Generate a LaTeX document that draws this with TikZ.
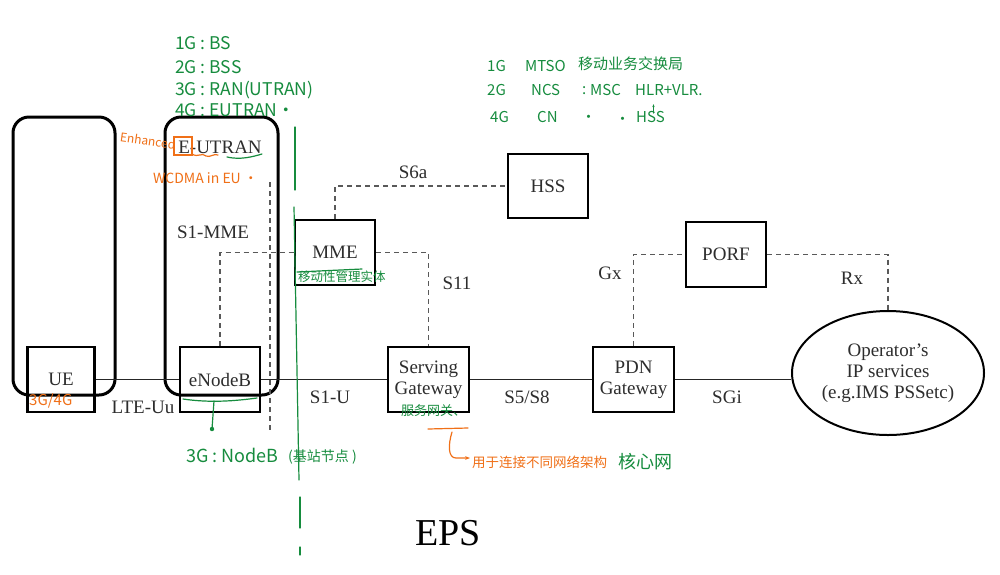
\documentclass[tikz,border=0pt]{standalone}
\usepackage{fontspec}
\setmainfont{Liberation Serif}
\newfontfamily\hand{Noto Sans CJK SC}
\usetikzlibrary{shapes.geometric,arrows.meta}
\definecolor{hg}{RGB}{22,140,62}
\definecolor{ho}{RGB}{240,112,24}
\definecolor{ink}{RGB}{45,45,45}
\begin{document}
\begin{tikzpicture}[x=1pt,y=-1pt,
  box/.style={draw=black, line width=2.3pt, align=center, inner sep=0pt,
    text=ink, font=\fontsize{19}{21}\selectfont},
  area/.style={draw=black, line width=3pt, rounded corners=16pt, inner sep=0pt},
  lbl/.style={text=ink, font=\fontsize{19}{21}\selectfont, inner sep=0pt},
  conn/.style={draw=black!85, line width=1pt},
  dashconn/.style={draw=black!65, line width=1.2pt, dash pattern=on 5pt off 4pt},
  grn/.style={text=hg, font=\hand\fontsize{17.5}{19}\selectfont, anchor=west, inner sep=0pt},
  org/.style={text=ho, font=\hand\fontsize{13}{15}\selectfont, anchor=west, inner sep=0pt},
  gline/.style={draw=hg, line width=1.2pt, line cap=round},
  oline/.style={draw=ho, line width=1.2pt, line cap=round}]
\useasboundingbox[fill=white] (0,0) rectangle (1000,574);

% big rounded areas
\node[area, minimum width=102, minimum height=278] (uearea) at (64,256) {};
\node[area, minimum width=113, minimum height=278] (eutran) at (221.5,256) {};

% boxes
\node[box, minimum width=67, minimum height=65] (ue) at (61,379.5) {UE};
\node[box, minimum width=80, minimum height=65] (enb) at (220,379.5) {eNodeB};
\node[box, minimum width=81, minimum height=65] (sgw) at (428.5,379.5) {Serving\\Gateway};
\node[box, minimum width=81, minimum height=65] (pgw) at (633.5,379.5) {PDN\\Gateway};
\node[box, minimum width=80, minimum height=65] (mme) at (335,252.5) {MME};
\node[box, minimum width=80, minimum height=64] (hss) at (548,186) {HSS};
\node[box, minimum width=80, minimum height=65] (porf) at (726,254.5) {PORF};
\node[draw=black, line width=2pt, ellipse, minimum width=192, minimum height=124,
  align=center, text=ink, font=\fontsize{19}{21}\selectfont, inner sep=0pt]
  (ops) at (888,373) {Operator’s\\IP services\\(e.g.IMS PSSetc)};

% solid connectors
\draw[conn] (ue.east) -- (enb.west);
\draw[conn] (enb.east) -- (sgw.west);
\draw[conn] (sgw.east) -- (pgw.west);
\draw[conn] (pgw.east) -- (ops.west |- pgw.east);

% dashed connectors
\draw[dashconn] (mme.north) |- (hss.west);
\draw[dashconn] (mme.east) -| (sgw.north);
\draw[dashconn] (enb.north) |- (mme.west);
\draw[dashconn] (pgw.north) |- (porf.west);
\draw[dashconn] (porf.east) -| (ops.north);
\coordinate (vtop) at (270,182);
\coordinate (vbot) at (270,432);
\draw[dashconn] (vtop) -- (vbot);

% labels
\node[lbl] (l1) at (220,147) {E-UTRAN};
\node[lbl] (l2) at (213,232) {S1-MME};
\node[lbl] (l3) at (143,407) {LTE-Uu};
\node[lbl] (l4) at (330,397) {S1-U};
\node[lbl] (l5) at (527,397) {S5/S8};
\node[lbl] (l6) at (727,397) {SGi};
\node[lbl] (l7) at (413,172) {S6a};
\node[lbl] (l8) at (457,283) {S11};
\node[lbl] (l9) at (610,273) {Gx};
\node[lbl] (l10) at (852,278) {Rx};
\node[text=black, font=\fontsize{38}{40}\selectfont] (eps) at (448,533) {EPS};

% ---- green handwritten notes ----
\node[grn] (g1) at (175,43) {1G : BS};
\node[grn] (g2) at (175,67) {2G : BSS};
\node[grn] (g3) at (175,90) {3G : RAN(UTRAN)};
\node[grn] (g4) at (175,110) {4G : EUTRAN·};

\begin{scope}[grn/.append style={font=\hand\fontsize{15}{17}\selectfont}]
\node[grn] (t1) at (487,66) {1G};
\node[grn] (t2) at (525,66) {MTSO};
\node[grn] (t3) at (578,64) {移动业务交换局};
\node[grn] (t4) at (487,90) {2G};
\node[grn] (t5) at (531,90) {NCS};
\node[grn] (t6) at (582,91) {:};
\node[grn] (t7) at (590,90) {MSC};
\node[grn] (t8) at (635,90) {HLR+VLR.};
\node[grn] (t9) at (490,117) {4G};
\node[grn] (t10) at (537,117) {CN};
\node[grn] (t11) at (581,119) {·};
\node[grn] (t12) at (615,121) {·};
\node[grn] (t13) at (636,117) {HSS};
\end{scope}
\draw[gline, -{Stealth[length=3pt]}] (t13.north) ++(3,2) -- ++(0,-9);

\draw[gline] (295,127) -- (295,190);
\draw[gline] (294,207) -- (299,480);
\draw[gline] (300,497) -- (300,528);
\draw[gline] (300,547) -- (300,555);

\draw[gline] (227,157) .. controls (240,160) and (252,157) .. (262,154);
\draw[gline] (297,272) -- (362,269);
\node[grn, font=\hand\fontsize{12.5}{14}\selectfont] (gm) at (298,277) {移动性管理实体};

\draw[gline] (183,399) .. controls (210,403) and (235,401) .. (257,398);
\coordinate (stemtop) at (214,401);
\coordinate (stembot) at (212,429);
\draw[gline] (stemtop) -- (stembot);
\fill[hg] (stembot) circle (2.2);
\node[grn, font=\hand\fontsize{18}{20}\selectfont] (gn) at (186,455) {3G : NodeB};
\node[grn, font=\hand\fontsize{14}{16}\selectfont] (gn2) at (288,457) {(基站节点 )};

\node[grn, font=\hand\fontsize{13}{15}\selectfont] (gs) at (401,411) {服务网关、};
\node[grn, font=\hand\fontsize{18}{20}\selectfont] (gc) at (618,462) {核心网};

% ---- orange handwritten notes ----
\node[org, rotate=-8, font=\hand\fontsize{12}{14}\selectfont] (o1) at (120,137) {Enhanced};
\draw[oline] (174,137) rectangle (192,155);
\draw[oline] (192,154) .. controls (198,158) and (202,152) .. (206,156) .. controls (210,158) and (214,153) .. (218,155);
\node[org, font=\hand\fontsize{14}{16}\selectfont] (o2) at (153,178) {WCDMA in EU ·};
\node[org, font=\hand\fontsize{15}{17}\selectfont] (o3) at (29,401) {3G/4G};
\draw[oline] (428,429) -- (468,428);
\coordinate (hk1) at (452,432);
\coordinate (hk2) at (470,458);
\draw[oline, -{Stealth[length=5pt]}] (hk1) .. controls (448,445) and (448,458) .. (456,458) -- (hk2);
\node[org, font=\hand\fontsize{13.5}{15}\selectfont] (o4) at (472,462) {用于连接不同网络架构};
\end{tikzpicture}
\end{document}
